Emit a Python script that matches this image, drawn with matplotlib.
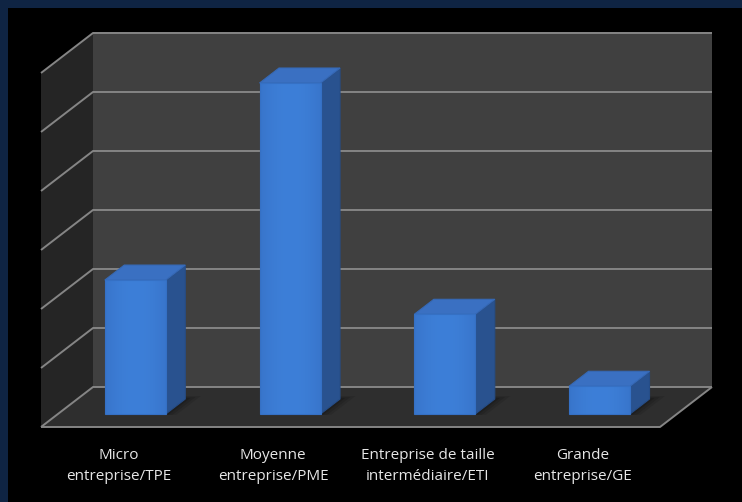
import numpy as np
import matplotlib
matplotlib.use("Agg")
import matplotlib.pyplot as plt
from matplotlib.patches import Polygon, Rectangle

categories = ["Micro\nentreprise/TPE", "Moyenne\nentreprise/PME",
              "Entreprise de taille\nintermédiaire/ETI", "Grande\nentreprise/GE"]
values = [22.7, 56.1, 16.9, 4.7]
grid_values = [0, 10, 20, 30, 40, 50, 60]

# oblique 3D look: one category = 154.75 px, one value unit = 5.9 px
cat_px = 154.75
val_px = 5.9
depth_dx = 52 / cat_px      # back plane shift, in category units
depth_dy = 40 / val_px      # back plane shift, in value units
bar_w = 61 / cat_px
bar_d0, bar_d1 = 0.325, 0.70   # bar depth inside the floor (0 front, 1 back)

def P(x, v, d=0.0):
    return (x + d * depth_dx, v + d * depth_dy)

fig = plt.figure(figsize=(7.4201, 5.0201), dpi=100)
fig.patch.set_facecolor("black")
# navy frame along the left and top edges
navy = "#0f2443"
fig.patches.append(Rectangle((0, 0), 8 / 742, 1, transform=fig.transFigure,
                             facecolor=navy, edgecolor="none", zorder=0))
fig.patches.append(Rectangle((0, 1 - 8 / 502), 1, 8 / 502, transform=fig.transFigure,
                             facecolor=navy, edgecolor="none", zorder=0))

ax = fig.add_axes([0, 0, 1, 1])
ax.patch.set_alpha(0)
ax.set_xlim(-41 / cat_px, (742 - 41) / cat_px)
ax.set_ylim(-(502 - 427) / val_px, 427 / val_px)
ax.axis("off")

n = len(categories)
vmax = grid_values[-1]
# back wall, side wall, floor
ax.add_patch(Polygon([P(0, 0, 1), P(n, 0, 1), P(n, vmax, 1), P(0, vmax, 1)],
                     facecolor="#404040", edgecolor="none", zorder=1))
ax.add_patch(Polygon([P(0, 0, 0), P(0, 0, 1), P(0, vmax, 1), P(0, vmax, 0)],
                     facecolor="#252525", edgecolor="none", zorder=1))
ax.add_patch(Polygon([P(0, 0, 0), P(n, 0, 0), P(n, 0, 1), P(0, 0, 1)],
                     facecolor="#2e2e2e", edgecolor="none", zorder=1))

grid_kw = dict(color="#858585", lw=1.4, zorder=2, solid_capstyle="butt")
for g in grid_values:
    xs, ys = zip(P(0, g, 0), P(0, g, 1), P(n, g, 1))
    ax.plot(xs, ys, **grid_kw)
xs, ys = zip(P(0, 0, 0), P(n, 0, 0), P(n, 0, 1))
ax.plot(xs, ys, **grid_kw)

# bars
for i, v in enumerate(values):
    x0 = i + 0.5 - bar_w / 2
    x1 = i + 0.5 + bar_w / 2
    # soft shadow on the floor
    for k, a in enumerate([0.10, 0.12, 0.15]):
        grow = (3 - k) * 0.025
        ax.add_patch(Polygon([P(x0 + 0.03, 0, bar_d0 - 0.02), P(x1 + grow, 0, bar_d0 - 0.02),
                              P(x1 + grow, 0, bar_d1 + grow), P(x0 + 0.03, 0, bar_d1 + grow)],
                             facecolor="black", edgecolor="none", alpha=a, zorder=3))
    front = [P(x0, 0, bar_d0), P(x1, 0, bar_d0), P(x1, v, bar_d0), P(x0, v, bar_d0)]
    side = [P(x1, 0, bar_d0), P(x1, 0, bar_d1), P(x1, v, bar_d1), P(x1, v, bar_d0)]
    top = [P(x0, v, bar_d0), P(x1, v, bar_d0), P(x1, v, bar_d1), P(x0, v, bar_d1)]
    ax.add_patch(Polygon(side, facecolor="#29528f", edgecolor="#264d87", lw=0.8, zorder=4))
    ax.add_patch(Polygon(top, facecolor="#3a70c2", edgecolor="#3669b6", lw=0.8, zorder=4))
    ax.add_patch(Polygon(front, facecolor="none", edgecolor="#3570c4", lw=0.8, zorder=6))
    # horizontal shading across the front face
    grad = np.linspace(0, 1, 64)
    shade = 1 - 0.35 * (2 * grad - 1) ** 2
    base_lo = np.array([0x2f, 0x62, 0xb2]) / 255
    base_hi = np.array([0x3d, 0x7f, 0xd8]) / 255
    img = base_lo[None, :] + (base_hi - base_lo)[None, :] * shade[:, None]
    fx0, fy0 = P(x0, 0, bar_d0)
    fx1, fy1 = P(x1, v, bar_d0)
    im = ax.imshow(img[None, :, :], extent=(fx0, fx1, fy0, fy1), aspect="auto",
                   interpolation="bilinear", zorder=5)
    im.set_clip_path(Polygon(front, transform=ax.transData))

# category labels under the front floor edge
for i, lab in enumerate(categories):
    ax.text(i + 0.5, -(466 - 427) / val_px, lab, ha="center", va="center",
            color="#e6e6e6", fontsize=11, family="Open Sans", linespacing=1.6)

fig.savefig("out.png", dpi=100, facecolor=fig.get_facecolor())
